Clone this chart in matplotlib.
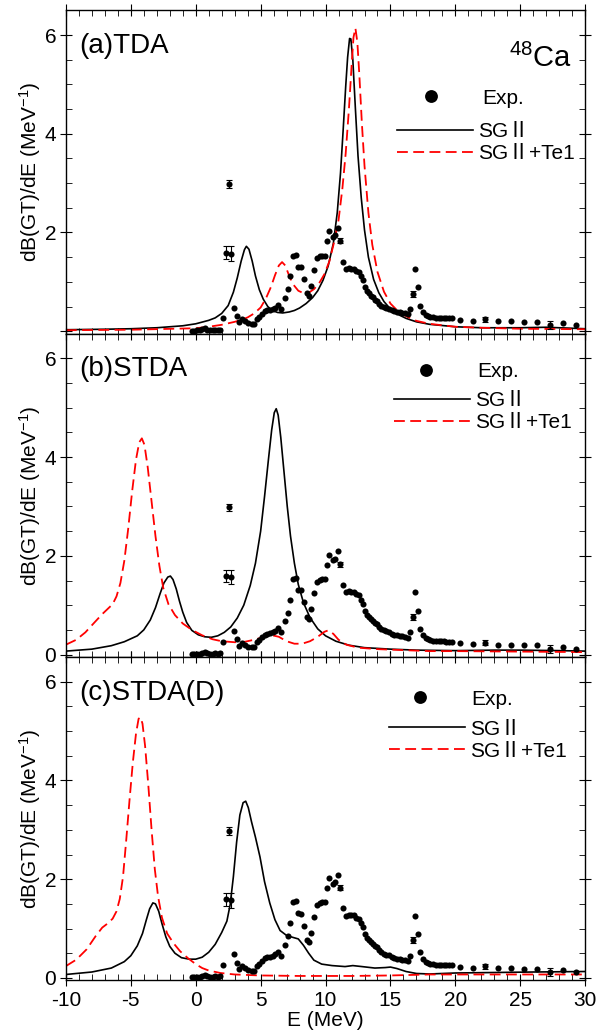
import matplotlib
matplotlib.use("Agg")
import matplotlib.pyplot as plt
from matplotlib.ticker import MultipleLocator

plt.rcParams['font.family'] = ['Liberation Sans', 'Noto Sans CJK JP', 'DejaVu Sans']
plt.rcParams['mathtext.fontset'] = 'custom'
plt.rcParams['mathtext.rm'] = 'Liberation Sans'
plt.rcParams['mathtext.default'] = 'regular'
plt.rcParams['axes.unicode_minus'] = False

# experimental 48Ca(p,n) strength, same in all panels
exp_e = [-0.3, -0.1, 0.1, 0.3, 0.5, 0.7, 0.9, 1.1, 1.3, 1.5, 1.7, 1.9,
         2.13, 2.34, 2.54, 2.75, 2.93, 3.16, 3.36, 3.59, 3.80, 4.06, 4.32, 4.52,
         4.70, 4.90, 5.11, 5.32, 5.52, 5.73, 5.93, 6.14, 6.35, 6.55, 6.91, 7.09,
         7.27, 7.50, 7.73, 7.91, 8.12, 8.32, 8.55, 8.76, 8.91, 9.12, 9.33, 9.54,
         9.74, 9.95, 10.10, 10.30, 10.56, 10.74, 10.92, 11.13, 11.33, 11.56, 11.77,
         11.98, 12.18, 12.36, 12.54, 12.70, 12.86, 13.03, 13.19, 13.37, 13.50,
         13.65, 13.81, 13.96, 14.12, 14.27, 14.48, 14.68, 14.89, 15.09, 15.30,
         15.50, 15.71, 15.91, 16.12, 16.32, 16.52, 16.73, 16.91, 17.12, 17.30,
         17.51, 17.70, 17.88, 18.08, 18.29, 18.49, 18.70, 18.90, 19.11, 19.31,
         19.52, 19.72, 20.33, 21.33, 22.31, 23.31, 24.31, 25.31, 26.31, 27.29,
         28.29, 29.30]
exp_y = [0.01, 0.01, 0.02, 0.02, 0.04, 0.06, 0.03, 0.02, 0.02, 0.03, 0.02, 0.03,
         0.26, 1.59, 2.98, 1.57, 0.48, 0.31, 0.18, 0.24, 0.20, 0.16, 0.15, 0.15,
         0.25, 0.29, 0.35, 0.40, 0.42, 0.43, 0.45, 0.48, 0.53, 0.45, 0.67, 0.85,
         1.11, 1.53, 1.55, 1.31, 1.30, 1.06, 0.77, 0.72, 0.92, 1.24, 1.48, 1.52,
         1.53, 1.53, 1.82, 2.02, 1.91, 1.94, 2.09, 1.83, 1.41, 1.26, 1.28,
         1.27, 1.27, 1.22, 1.20, 1.11, 1.03, 0.89, 0.81, 0.77, 0.72,
         0.69, 0.64, 0.62, 0.56, 0.52, 0.49, 0.47, 0.46, 0.42, 0.40,
         0.39, 0.38, 0.37, 0.36, 0.34, 0.45, 0.76, 1.26, 0.89, 0.52,
         0.39, 0.33, 0.31, 0.29, 0.28, 0.27, 0.27, 0.27, 0.27, 0.26,
         0.26, 0.26, 0.23, 0.21, 0.24, 0.20, 0.20, 0.19, 0.19, 0.12,
         0.16, 0.12]
err_e = [2.34, 2.54, 2.75, 11.13, 16.73, 22.31, 27.29]
err_y = [1.59, 2.98, 1.57, 1.83, 0.76, 0.24, 0.12]
err_d = [0.13, 0.08, 0.15, 0.05, 0.06, 0.05, 0.08]

# (a) TDA
a_sg_e = [-10, -7, -5, -3, -1, 0, 1, 1.5, 2, 2.5, 2.9, 3.2, 3.5, 3.75, 3.9, 4.1,
          4.35, 4.6, 4.9, 5.2, 5.55, 5.9, 6.3, 6.7, 7.2, 7.6, 8.0, 8.5, 9.0, 9.4,
          9.8, 10.2, 10.6, 10.9, 11.15, 11.35, 11.55, 11.7, 11.85, 11.95, 12.1,
          12.3, 12.5, 12.75, 13.0, 13.3, 13.7, 14.1, 14.5, 15.0, 15.5, 16.2, 17.0,
          18, 20, 22, 25, 27, 30]
a_sg_y = [0.03, 0.04, 0.05, 0.07, 0.11, 0.15, 0.22, 0.27, 0.36, 0.52, 0.79, 1.08,
          1.42, 1.65, 1.72, 1.66, 1.42, 1.12, 0.84, 0.65, 0.50, 0.42, 0.38, 0.37,
          0.39, 0.42, 0.47, 0.56, 0.68, 0.82, 1.03, 1.32, 1.78, 2.4, 3.2, 4.05,
          4.95, 5.55, 5.93, 5.92, 5.5, 4.5, 3.55, 2.7, 2.05, 1.5, 1.05, 0.78, 0.6,
          0.45, 0.35, 0.26, 0.19, 0.14, 0.09, 0.07, 0.07, 0.08, 0.05]
a_te_e = [-10, -5, 0, 1, 2, 3, 3.5, 4.0, 4.5, 5.0, 5.4, 5.8, 6.1, 6.4, 6.65, 6.9,
          7.2, 7.5, 7.9, 8.3, 8.7, 9.1, 9.5, 9.9, 10.3, 10.7, 11.0, 11.3, 11.55,
          11.8, 12.0, 12.15, 12.3, 12.45, 12.6, 12.8, 13.0, 13.3, 13.6, 14.0, 14.5,
          15.0, 15.6, 16.3, 17.0, 18, 20, 22, 25, 30]
a_te_y = [0.02, 0.03, 0.06, 0.09, 0.13, 0.19, 0.23, 0.28, 0.36, 0.48, 0.66, 0.9,
          1.13, 1.33, 1.40, 1.33, 1.12, 0.95, 0.82, 0.77, 0.78, 0.85, 0.97, 1.15,
          1.42, 1.85, 2.25, 2.9, 3.6, 4.5, 5.35, 5.95, 6.14, 5.85, 5.2, 4.2, 3.35,
          2.4, 1.75, 1.2, 0.8, 0.56, 0.40, 0.29, 0.21, 0.15, 0.09, 0.07, 0.05, 0.04]

# (b) STDA
b_sg_e = [-10, -8, -6.5, -5.5, -4.5, -4, -3.5, -3.1, -2.75, -2.45, -2.15, -1.95,
          -1.75, -1.5, -1.25, -1.0, -0.7, -0.3, 0.2, 0.7, 1.2, 1.7, 2.2, 2.7, 3.2,
          3.7, 4.2, 4.6, 5.0, 5.3, 5.6, 5.85, 6.05, 6.2, 6.35, 6.55, 6.8, 7.05,
          7.3, 7.6, 7.9, 8.3, 8.8, 9.4, 10.0, 10.8, 11.8, 13, 15, 17, 20, 23, 25,
          28, 30]
b_sg_y = [0.07, 0.11, 0.18, 0.26, 0.38, 0.5, 0.7, 0.95, 1.23, 1.45, 1.57, 1.59,
          1.52, 1.33, 1.08, 0.86, 0.65, 0.49, 0.40, 0.36, 0.35, 0.38, 0.45, 0.56,
          0.74, 1.0, 1.4, 1.85, 2.5, 3.2, 3.95, 4.55, 4.9, 4.98, 4.85, 4.4, 3.7,
          3.0, 2.4, 1.85, 1.42, 1.05, 0.75, 0.52, 0.38, 0.27, 0.19, 0.14, 0.11,
          0.09, 0.08, 0.09, 0.09, 0.08, 0.07]
b_te_e = [-10, -9.2, -8.5, -7.8, -7.2, -6.8, -6.4, -6.1, -5.8, -5.5, -5.2, -4.9,
          -4.6, -4.35, -4.15, -3.95, -3.7, -3.4, -3.1, -2.8, -2.5, -2.1, -1.6, -1.0,
          -0.3, 0.5, 1.3, 2.0, 3.0, 3.8, 4.5, 5.3, 5.9, 6.4, 7.0, 7.6, 8.2, 8.8,
          9.4, 9.9, 10.2, 10.6, 11.0, 11.6, 12.5, 14, 16, 18, 20, 25, 30]
b_te_y = [0.20, 0.30, 0.45, 0.65, 0.82, 0.92, 1.02, 1.18, 1.45, 1.9, 2.55, 3.3,
          3.95, 4.3, 4.38, 4.25, 3.8, 3.1, 2.4, 1.8, 1.35, 1.02, 0.8, 0.63, 0.5,
          0.39, 0.31, 0.27, 0.25, 0.26, 0.3, 0.36, 0.39, 0.36, 0.27, 0.22, 0.22,
          0.27, 0.36, 0.46, 0.49, 0.42, 0.3, 0.2, 0.14, 0.11, 0.09, 0.07, 0.07,
          0.06, 0.05]

# (c) STDA(D)
c_sg_e = [-10, -8, -6.5, -5.5, -5.0, -4.5, -4.1, -3.8, -3.55, -3.3, -3.1, -2.85,
          -2.6, -2.3, -2.0, -1.6, -1.1, -0.5, 0, 0.5, 1.0, 1.5, 2.0, 2.4, 2.65,
          2.9, 3.15, 3.4, 3.65, 3.85, 4.05, 4.3, 4.6, 4.95, 5.3, 5.7, 6.1, 6.5,
          7.0, 7.5, 7.9, 8.3, 8.7, 9.1, 9.7, 10.5, 11.5, 12.1, 12.8, 13.8, 14.6,
          15.0, 15.5, 16.2, 17, 18, 20, 23, 26, 30]
c_sg_y = [0.07, 0.12, 0.2, 0.33, 0.45, 0.65, 0.9, 1.18, 1.4, 1.52, 1.50, 1.35,
          1.1, 0.83, 0.64, 0.5, 0.41, 0.38, 0.38, 0.42, 0.52, 0.68, 0.92, 1.15,
          1.48, 2.05, 2.75, 3.3, 3.55, 3.58, 3.45, 3.16, 2.85, 2.45, 1.95, 1.52,
          1.18, 0.96, 0.86, 0.82, 0.79, 0.66, 0.5, 0.36, 0.28, 0.25, 0.23, 0.25,
          0.23, 0.2, 0.21, 0.22, 0.19, 0.13, 0.09, 0.08, 0.1, 0.11, 0.12, 0.13]
c_te_e = [-10, -9.2, -8.4, -7.7, -7.2, -6.8, -6.4, -6.1, -5.85, -5.6, -5.35, -5.1,
          -4.85, -4.6, -4.4, -4.25, -4.1, -3.9, -3.65, -3.4, -3.15, -2.9, -2.6,
          -2.2, -1.7, -1.2, -0.6, 0.0, 0.5, 1.0, 1.9, 3, 5, 8, 12, 15, 18, 22, 26,
          30]
c_te_y = [0.24, 0.37, 0.58, 0.85, 1.02, 1.1, 1.2, 1.35, 1.6, 2.05, 2.8, 3.6, 4.35,
          4.95, 5.25, 5.28, 5.15, 4.7, 3.9, 3.0, 2.2, 1.65, 1.22, 0.9, 0.7, 0.54,
          0.4, 0.28, 0.2, 0.15, 0.1, 0.07, 0.05, 0.04, 0.04, 0.05, 0.07, 0.07,
          0.07, 0.07]

panel_labels = ["(a)TDA", "(b)STDA", "(c)STDA(D)"]
curves = [(a_sg_e, a_sg_y, a_te_e, a_te_y),
          (b_sg_e, b_sg_y, b_te_e, b_te_y),
          (c_sg_e, c_sg_y, c_te_e, c_te_y)]
# legend anchors (axes fraction): exp dot entry, line entries
exp_leg_pos = [(0.663, 0.728), (0.653, 0.882), (0.642, 0.870)]
line_leg_pos = [(0.638, 0.591), (0.632, 0.759), (0.622, 0.743)]

fig = plt.figure(figsize=(5.99, 10.32), dpi=100)
gs = fig.add_gridspec(3, 1, left=0.110, right=0.977, top=0.990, bottom=0.050,
                      hspace=0)

for i in range(3):
    ax = fig.add_subplot(gs[i])
    sg_e, sg_y, te_e, te_y = curves[i]

    ax.errorbar(err_e, err_y, yerr=err_d, fmt='none', ecolor='black',
                elinewidth=0.8, capsize=2.2, capthick=0.8, zorder=3)
    h_exp, = ax.plot(exp_e, exp_y, 'o', color='black', markersize=4.4,
                     markeredgewidth=0, zorder=4, label='Exp.')
    h_sg, = ax.plot(sg_e, sg_y, '-', color='black', lw=1.2, zorder=2,
                    label='SGⅡ')
    h_te, = ax.plot(te_e, te_y, '--', color='#ff0000', lw=1.3, zorder=2,
                    dashes=(6.0, 3.0), label='SGⅡ+Te1')

    ax.set_xlim(-10, 30)
    ax.set_ylim(-0.05, 6.5)
    ax.xaxis.set_major_locator(MultipleLocator(5))
    ax.xaxis.set_minor_locator(MultipleLocator(1))
    ax.set_yticks([0, 2, 4, 6])
    ax.yaxis.set_minor_locator(MultipleLocator(0.5))
    if i == 0:
        ax.set_yticklabels(['', '2', '4', '6'])
    ax.tick_params(which='both', top=True, right=True, labelsize=15)
    ax.tick_params(axis='x', which='major', direction='inout', length=8)
    ax.tick_params(axis='y', which='major', direction='inout', length=8, pad=3)
    ax.tick_params(which='minor', direction='in', length=4)
    for s in ax.spines.values():
        s.set_linewidth(1.0)

    if i < 2:
        ax.tick_params(axis='x', labelbottom=False)
    else:
        ax.set_xlabel("E (MeV)", fontsize=15, labelpad=1)

    ax.set_ylabel("dB(GT)/dE (MeV$^{-1}$)", fontsize=15)
    ax.yaxis.set_label_coords(-0.045, 0.5)

    ax.text(0.025, 0.89, panel_labels[i], transform=ax.transAxes,
            fontsize=20, ha='left', va='center')
    if i == 0:
        ax.text(0.975, 0.826, "$^{48}$Ca", transform=ax.transAxes,
                fontsize=21, ha='right', va='baseline')

    leg1 = ax.legend(handles=[h_exp], loc='center left',
                     bbox_to_anchor=exp_leg_pos[i], frameon=False, fontsize=15,
                     markerscale=2.1, handlelength=2.0, handletextpad=1.45,
                     borderpad=0, borderaxespad=0)
    ax.add_artist(leg1)
    ax.legend(handles=[h_sg, h_te], loc='center left',
              bbox_to_anchor=line_leg_pos[i], frameon=False, fontsize=15,
              handlelength=3.65, handletextpad=0.25,
              labelspacing=0.15, borderpad=0, borderaxespad=0)

plt.savefig("out.png", dpi=100)
